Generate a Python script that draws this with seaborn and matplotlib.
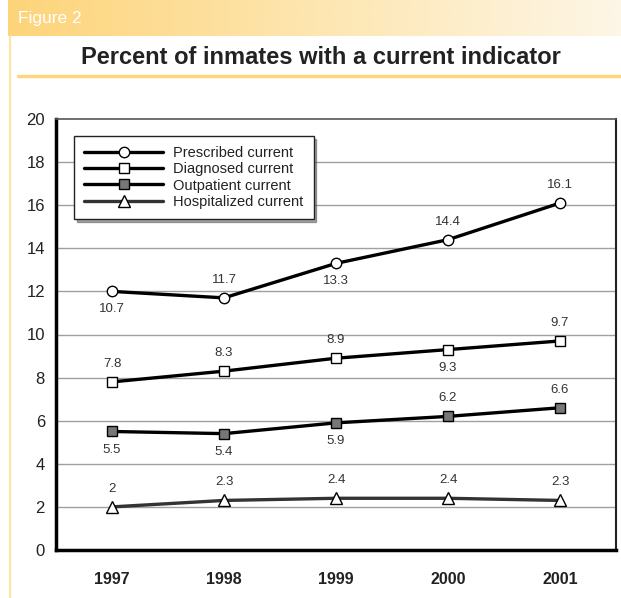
import numpy as np
import pandas as pd
import matplotlib
matplotlib.use("Agg")
import matplotlib.pyplot as plt
from matplotlib.colors import LinearSegmentedColormap
import seaborn as sns

years = [1997, 1998, 1999, 2000, 2001]
series_names = ["Prescribed current", "Diagnosed current", "Outpatient current", "Hospitalized current"]
prescribed = [12.0, 11.7, 13.3, 14.4, 16.1]
diagnosed = [7.8, 8.3, 8.9, 9.3, 9.7]
outpatient = [5.5, 5.4, 5.9, 6.2, 6.6]
hospitalized = [2.0, 2.3, 2.4, 2.4, 2.3]
prescribed_labels = ["10.7", "11.7", "13.3", "14.4", "16.1"]
diagnosed_labels = ["7.8", "8.3", "8.9", "9.3", "9.7"]
outpatient_labels = ["5.5", "5.4", "5.9", "6.2", "6.6"]
hospitalized_labels = ["2", "2.3", "2.4", "2.4", "2.3"]
y_ticks = [0, 2, 4, 6, 8, 10, 12, 14, 16, 18, 20]

sns.set_theme(style="white")
plt.rcParams['font.family'] = ['Liberation Sans', 'DejaVu Sans']

W, H = 621, 598
fig = plt.figure(figsize=(W / 100, H / 100), dpi=100)
fig.patch.set_facecolor("white")

# header gradient bar
hax = fig.add_axes([8 / W, 1 - 36 / H, 1 - 8 / W, 36 / H])
cmap = LinearSegmentedColormap.from_list("hdr", ["#fdd47a", "#fde6b0", "#fdf6e6"])
hax.imshow(np.linspace(0, 1, 256)[None, :], aspect="auto", cmap=cmap, extent=[0, 1, 0, 1])
hax.set_axis_off()
fig.text(18 / W, 1 - 19 / H, "Figure 2", color="white", fontsize=12.5,
         family=['Liberation Sans Narrow', 'Liberation Sans', 'DejaVu Sans'], va="center", ha="left")

# left vertical rule and title rule
fig.add_artist(plt.Line2D([9.5 / W, 9.5 / W], [0, 1 - 36 / H], color="#fde3a6", lw=1.5))
fig.add_artist(plt.Line2D([18 / W, 1], [1 - 76 / H, 1 - 76 / H], color="#fdd77f", lw=2.5))
fig.text(321 / W, 1 - 57 / H, "Percent of inmates with a current indicator", fontsize=17,
         fontweight="bold", color="#222222", ha="center", va="center")

ax = fig.add_axes([56 / W, 48 / H, 560 / W, 431 / H])

rows = []
for name, vals in zip(series_names, [prescribed, diagnosed, outpatient, hospitalized]):
    for yr, v in zip(years, vals):
        rows.append({"Year": yr, "Percent": v, "Series": name})
df = pd.DataFrame(rows)

styles = {
    "Prescribed current": dict(marker="o", mfc="white", color="black", ms=7.5),
    "Diagnosed current": dict(marker="s", mfc="white", color="black", ms=6.5),
    "Outpatient current": dict(marker="s", mfc="#777777", color="black", ms=6.5),
    "Hospitalized current": dict(marker="^", mfc="white", color="#333333", ms=8.5),
}
for name in series_names:
    st = styles[name]
    sns.lineplot(data=df[df.Series == name], x="Year", y="Percent", ax=ax, color=st["color"],
                 lw=2.4, marker=st["marker"], markersize=st["ms"], markerfacecolor=st["mfc"],
                 markeredgecolor="black", markeredgewidth=1, label=name, zorder=3)

# data labels
label_pos = {
    "Prescribed current": (prescribed, prescribed_labels, ["b", "a", "b", "a", "a"]),
    "Diagnosed current": (diagnosed, diagnosed_labels, ["a", "a", "a", "b", "a"]),
    "Outpatient current": (outpatient, outpatient_labels, ["b", "b", "b", "a", "a"]),
    "Hospitalized current": (hospitalized, hospitalized_labels, ["a", "a", "a", "a", "a"]),
}
for name, (vals, labs, pos) in label_pos.items():
    for yr, v, lab, p in zip(years, vals, labs, pos):
        off = 13 if p == "a" else -13
        ax.annotate(lab, (yr, v), xytext=(0, off), textcoords="offset points", ha="center",
                    va="center", fontsize=9.5, color="#333333")

ax.set_xlim(1996.5, 2001.5)
ax.set_ylim(0, 20)
ax.set_yticks(y_ticks)
ax.set_yticklabels([str(t) for t in y_ticks], fontsize=12, color="#222222")
ax.set_xticks(years)
ax.set_xticklabels([str(y) for y in years], fontsize=11.5, fontweight="bold", color="#222222")
ax.set_xticks([1997.5, 1998.5, 1999.5, 2000.5], minor=True)
ax.tick_params(axis="x", which="major", length=0, pad=16)
ax.tick_params(axis="x", which="minor", length=9, width=1.5, direction="in", color="#222222")
ax.tick_params(axis="y", length=0, pad=8)
ax.set_xlabel("")
ax.set_ylabel("")
for yv in y_ticks[1:-1]:
    ax.axhline(yv, color="#a0a0a0", lw=1, zorder=1)
ax.spines["left"].set_color("black")
ax.spines["left"].set_linewidth(2.5)
ax.spines["bottom"].set_color("black")
ax.spines["bottom"].set_linewidth(2.5)
ax.spines["top"].set_color("#555555")
ax.spines["top"].set_linewidth(1.2)
ax.spines["right"].set_color("#222222")
ax.spines["right"].set_linewidth(1.5)

leg = ax.legend(loc="upper left", bbox_to_anchor=(18 / 560, 1 - 17 / 431), frameon=True,
                fancybox=False, shadow=True, fontsize=10.5, handlelength=5.4, labelspacing=0.15,
                borderpad=0.7, handletextpad=0.7, borderaxespad=0)
leg.get_frame().set_edgecolor("#222222")
leg.get_frame().set_linewidth(1)
for t in leg.get_texts():
    t.set_color("#222222")

fig.savefig("out.png", dpi=100)
